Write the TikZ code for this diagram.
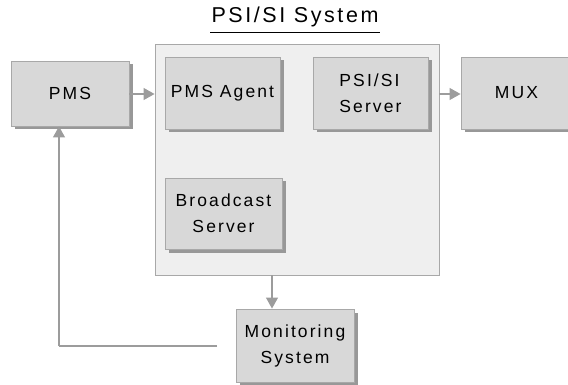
\documentclass[tikz,border=0pt]{standalone}
\usepackage{fontspec}
\setmainfont{Liberation Sans}[LetterSpace=12]
\usetikzlibrary{arrows.meta,shadows}
\definecolor{boxfill}{HTML}{D8D8D8}
\definecolor{boxline}{HTML}{A8A8A8}
\definecolor{shadowc}{HTML}{989898}
\definecolor{outerfill}{HTML}{EFEFEF}
\definecolor{linec}{HTML}{9C9C9C}
\tikzset{
  box/.style={draw=boxline, line width=0.9pt, fill=boxfill, inner sep=0pt,
    drop shadow={shadow xshift=3.5pt, shadow yshift=-3.5pt, fill=shadowc, opacity=1},
    font=\fontsize{17.5}{26}\selectfont, align=center},
  outerbox/.style={draw=boxline, line width=0.9pt, fill=outerfill, inner sep=0pt},
  conn/.style={draw=linec, line width=1.2pt, -{Triangle[width=12pt,length=11pt]}},
  plainconn/.style={draw=linec, line width=1.2pt}
}
\begin{document}
\begin{tikzpicture}[x=1pt,y=-1pt]
\useasboundingbox (0,0) rectangle (568,385);
\node[outerbox, minimum width=284pt, minimum height=231pt] (outer) at (297,159.5) {};
\node[font=\fontsize{21.5}{26}\selectfont, inner sep=0pt] (title) at (295,17) {PSI/SI System};
\draw[line width=1pt] (210,33) -- (380,33);
\node[box, minimum width=118pt, minimum height=65pt] (pms) at (70,93.5) {PMS};
\node[box, minimum width=115pt, minimum height=72pt] (agent) at (222.5,93) {PMS Agent};
\node[box, minimum width=115pt, minimum height=72pt, align=left] (psisi) at (370.5,93) {PSI/SI\\Server};
\node[box, minimum width=111pt, minimum height=72pt] (mux) at (516.5,93) {MUX};
\node[box, minimum width=117pt, minimum height=71pt] (bcast) at (223.5,213.5) {Broadcast\\Server};
\node[box, minimum width=118pt, minimum height=73pt] (mon) at (295,345.5) {Monitoring\\System};
\coordinate (monfree) at (217,346);
\draw[conn] (pms.east |- 0,94) -- (outer.west |- 0,94);
\draw[conn] (outer.east |- 0,94) -- (mux.west |- 0,94);
\draw[conn] (outer.south -| 272,0) -- (mon.north -| 272,0);
\draw[plainconn] (monfree) -- (59,346) coordinate (corner);
\draw[conn] (corner) -- (pms.south -| corner);
\end{tikzpicture}
\end{document}
